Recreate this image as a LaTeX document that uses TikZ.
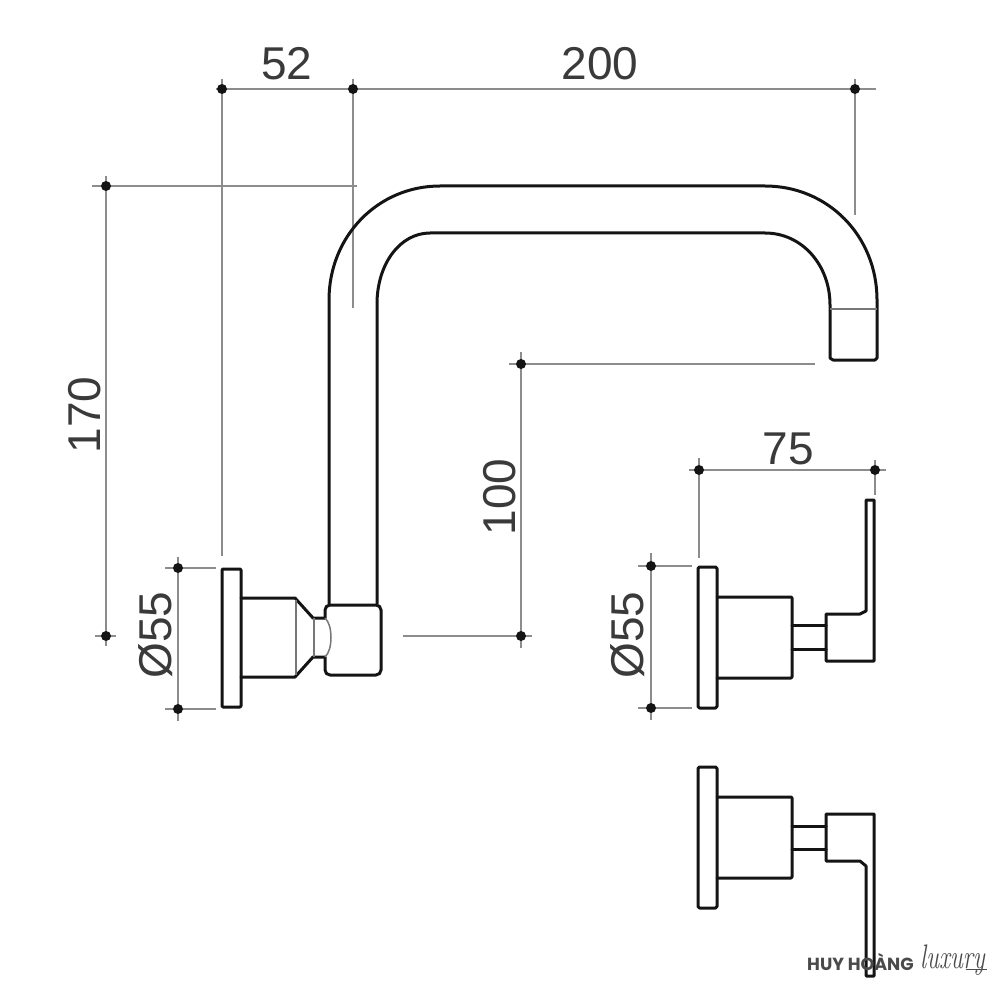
\documentclass[tikz,border=0pt]{standalone}
\usepackage{fontspec}
\usetikzlibrary{backgrounds}
\setmainfont{Liberation Sans}
\newfontfamily\wmfont{Poppins}
\newfontfamily\wmscript{Latin Modern Roman}
\definecolor{ink}{HTML}{141414}
\definecolor{dimgray}{HTML}{8C8C8C}
\definecolor{txt}{HTML}{3A3A3A}
\definecolor{wm}{HTML}{4A4A4A}
\tikzset{
  part/.style={draw=ink,line width=3pt,line join=round,line cap=round},
  thin part/.style={draw=dimgray!85!black,line width=1.5pt},
  dimline/.style={draw=dimgray,line width=1.6pt},
  dimdot/.style={circle,fill=ink,inner sep=0pt,minimum size=10pt},
  dimtext/.style={text=txt,inner sep=0pt,font=\fontsize{46}{46}\selectfont},
}
\begin{document}
\begin{tikzpicture}[x=1pt,y=-1pt]
\useasboundingbox (0,0) rectangle (1000,1000);

% dimension dots
\node[dimdot] (t1) at (222,89) {};
\node[dimdot] (t2) at (353,89) {};
\node[dimdot] (t3) at (855,89) {};
\node[dimdot] (h1) at (106,186) {};
\node[dimdot] (h2) at (106,636) {};
\node[dimdot] (s1) at (521,364) {};
\node[dimdot] (s2) at (521,636) {};
\node[dimdot] (w1) at (699,470) {};
\node[dimdot] (w2) at (875,470) {};
\node[dimdot] (d1) at (178,568) {};
\node[dimdot] (d2) at (178,709) {};
\node[dimdot] (e1) at (651,566) {};
\node[dimdot] (e2) at (651,708) {};

% free ends of the dimension lines
\coordinate (t0) at (216,89);  \coordinate (t4) at (876,89);
\coordinate (t1b) at (222,556); \coordinate (t2b) at (353,308); \coordinate (t3b) at (855,215);
\coordinate (t1t) at (222,79); \coordinate (t2t) at (353,79); \coordinate (t3t) at (855,79);
\coordinate (h1r) at (357,186); \coordinate (h1l) at (92,186);
\coordinate (h2l) at (95,636);  \coordinate (h2r) at (116,636);
\coordinate (h0) at (106,176);  \coordinate (h3) at (106,646);
\coordinate (s1r) at (815,364); \coordinate (s1l) at (509,364);
\coordinate (s2l) at (403,636); \coordinate (s2r) at (532,636);
\coordinate (s0) at (521,352);  \coordinate (s3) at (521,648);
\coordinate (w0) at (689,470);  \coordinate (w3) at (886,470);
\coordinate (w1b) at (699,558); \coordinate (w2b) at (875,495); \coordinate (w1t) at (699,458); \coordinate (w2t) at (875,460);
\coordinate (d1l) at (165,568); \coordinate (d1r) at (216,568);
\coordinate (d2l) at (165,709); \coordinate (d2r) at (216,709);
\coordinate (d0) at (178,557);  \coordinate (d3) at (178,721);
\coordinate (e1l) at (638,566); \coordinate (e1r) at (692,566);
\coordinate (e2l) at (638,708); \coordinate (e2r) at (692,708);
\coordinate (e0) at (651,553);  \coordinate (e3) at (651,720);

\begin{scope}[on background layer]
\fill[white] (0,0) rectangle (1000,1000);
\begin{scope}[dimline]
\draw (t0) -- (t4);
\draw (t1t) -- (t1b); \draw (t2t) -- (t2b); \draw (t3t) -- (t3b);
\draw (h1l) -- (h1r); \draw (h2l) -- (h2r); \draw (h0) -- (h3);
\draw (s1l) -- (s1r); \draw (s2l) -- (s2r); \draw (s0) -- (s3);
\draw (w0) -- (w3); \draw (w1t) -- (w1b); \draw (w2t) -- (w2b);
\draw (d1l) -- (d1r); \draw (d2l) -- (d2r); \draw (d0) -- (d3);
\draw (e1l) -- (e1r); \draw (e2l) -- (e2r); \draw (e0) -- (e3);
\end{scope}
\end{scope}

% dimension texts
\node[dimtext] (l52) at (287,64) {52};
\node[dimtext] (l200) at (600,64) {200};
\node[dimtext,rotate=90] (l170) at (85,415) {170};
\node[dimtext,rotate=90] (l100) at (500,497) {100};
\node[dimtext] (l75) at (788,449) {75};
\node[dimtext,rotate=90] (ld1) at (156,635) {Ø55};
\node[dimtext,rotate=90] (ld2) at (628,635) {Ø55};

% spout
\draw[part] (329,604) -- (329,300) .. controls (329,236) and (378,186) .. (440,186)
  -- (765,186) .. controls (828,186) and (877,236) .. (877,300)
  -- (877,358) -- (875,360) -- (833,360) -- (830,358) -- (830,305)
  .. controls (830,265) and (802,233) .. (765,233)
  -- (430,233) .. controls (400,233) and (377,264) .. (377,304) -- (377,604);
\draw[thin part] (830,309) -- (877,309);

% left valve and elbow
\draw[part,rounded corners=1pt] (222,569) rectangle (241,707);
\draw[part] (241,598) -- (295,598) -- (313,618) -- (325,618);
\draw[part] (241,677) -- (295,677) -- (313,657) -- (325,657);
\draw[part,rounded corners=5pt] (325,618) -- (325,605) -- (381,605) -- (381,675) -- (325,675) -- (325,657);
\draw[thin part] (296,600) -- (296,675);
\draw[thin part] (314,618) -- (314,657);
\draw[thin part] (325,618) .. controls (333,625) and (333,650) .. (325,657);

% upper right valve
\draw[part,rounded corners=1.5pt] (698,567) rectangle (717,708);
\draw[part,rounded corners=1pt] (717,597) -- (792,597) -- (792,678) -- (717,678);
\draw[part] (792,625) -- (826,625);
\draw[part] (792,649) -- (826,649);
\draw[part] (826,661) -- (826,614) -- (860,614) -- (866,611) -- (866,500) -- (874,500) -- (874,661) -- cycle;

% lower right valve
\draw[part,rounded corners=1.5pt] (698,767) rectangle (717,908);
\draw[part,rounded corners=1pt] (717,797) -- (792,797) -- (792,878) -- (717,878);
\draw[part] (792,826) -- (826,826);
\draw[part] (792,849) -- (826,849);
\draw[part] (826,814) -- (826,861) -- (860,861) -- (866,866) -- (866,976) -- (874,976) -- (874,814) -- cycle;

% watermark
\node[anchor=west,inner sep=0pt,text=wm,font=\wmfont\bfseries\fontsize{17.5}{17.5}\selectfont] (wm1) at (807,962) {HUY HOÀNG};
\node[anchor=west,inner sep=0pt,text=wm,xscale=.72,font=\wmscript\itshape\fontsize{34}{34}\selectfont] (wm2) at (920,960) {luxury};
\coordinate (wmstart) at (966,969);
\coordinate (wmend) at (987,969);
\draw[wm,line width=0.8pt] (wmstart) -- (wmend);
\end{tikzpicture}
\end{document}
